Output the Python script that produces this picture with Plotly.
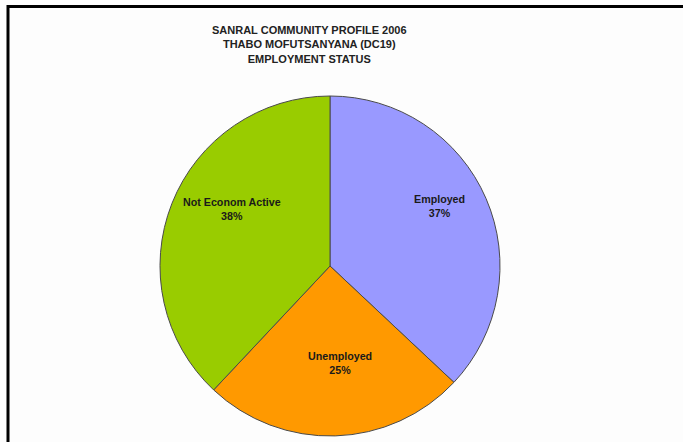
import math
import plotly.graph_objects as go

# Employment status shares, Thabo Mofutsanyana (DC19), 2006
categories = ["Employed", "Unemployed", "Not Econom Active"]
shares = [37, 25, 38]
slice_colors = ["#9999FF", "#FF9900", "#99CC00"]

title_lines = [
    "SANRAL COMMUNITY PROFILE 2006",
    "THABO MOFUTSANYANA (DC19)",
    "EMPLOYMENT STATUS",
]

W, H = 683, 442
FONT = "Liberation Sans, Arial, sans-serif"

# pie placement in pixels
CX, CY, R = 330, 266, 170


def px_x(x):
    return x / W


def px_y(y):
    return 1 - y / H


fig = go.Figure(
    go.Pie(
        labels=categories,
        values=shares,
        sort=False,
        direction="clockwise",
        rotation=0,
        marker=dict(colors=slice_colors, line=dict(color="#4a4a4a", width=1)),
        textinfo="none",
        showlegend=False,
        hoverinfo="label+percent",
        domain=dict(x=[px_x(CX - R), px_x(CX + R)], y=[px_y(CY + R), px_y(CY - R)]),
    )
)

# Slice labels placed along each slice's mid-angle (clockwise from 12 o'clock)
total = sum(shares)
cum = 0.0
for name, v in zip(categories, shares):
    mid = (cum + v / 2) / total * 2 * math.pi
    cum += v
    rr = 0.66 * R
    lx = CX + rr * math.sin(mid) + 0.04 * R
    ly = CY - rr * math.cos(mid) - 0.09 * R
    fig.add_annotation(
        text=f"<b>{name}</b><br><b>{v / total * 100:.0f}%</b>",
        x=px_x(lx), y=px_y(ly), xref="paper", yref="paper",
        xanchor="center", yanchor="middle", showarrow=False, align="center",
        font=dict(family=FONT, size=10.7, color="#1a1a1a"),
    )

fig.add_annotation(
    text="<br>".join(f"<b>{t}</b>" for t in title_lines),
    x=px_x(309),
    y=px_y(22),
    xref="paper",
    yref="paper",
    xanchor="center",
    yanchor="top",
    showarrow=False,
    align="center",
    font=dict(family=FONT, size=11, color="#222222"),
)

# Frame lines along the top and left edges
fig.add_shape(type="line", xref="paper", yref="paper",
              x0=px_x(7), x1=1, y0=px_y(6.5), y1=px_y(6.5),
              line=dict(color="black", width=3))
fig.add_shape(type="line", xref="paper", yref="paper",
              x0=px_x(8), x1=px_x(8), y0=px_y(5), y1=0,
              line=dict(color="black", width=3))

fig.update_layout(
    width=W,
    height=H,
    margin=dict(l=0, r=0, t=0, b=0),
    paper_bgcolor="#FDFDFD",
    plot_bgcolor="#FDFDFD",
)

fig.write_html("out.html")
